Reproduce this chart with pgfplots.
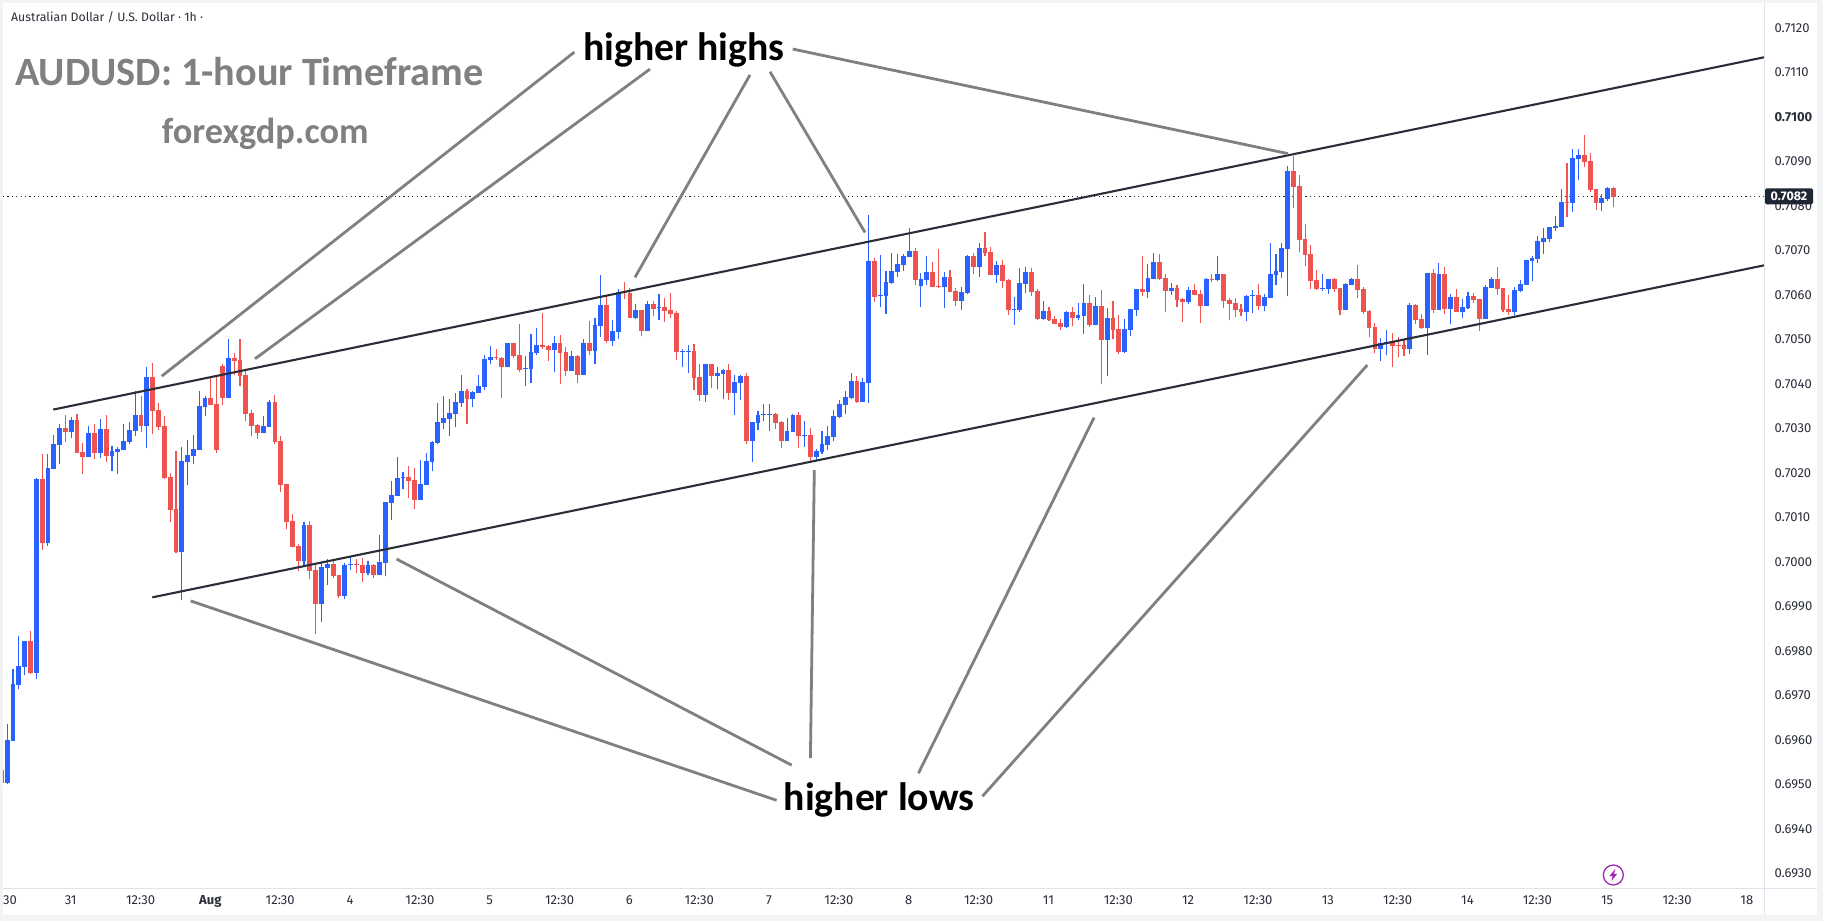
\documentclass[border=0pt]{standalone}
\usepackage{pgfplots}
\usepackage{pgfplotstable}
\usepackage{fontspec}
\pgfplotsset{compat=1.18}
\setmainfont{Fira Sans}
\newfontfamily\carlito{Carlito}
\definecolor{upc}{HTML}{2962FF}
\definecolor{dnc}{HTML}{EF5350}
\definecolor{tickc}{HTML}{2A2E39}
\definecolor{sepc}{HTML}{E0E3EB}
\definecolor{annc}{HTML}{808080}
\definecolor{outer}{HTML}{F2F3F5}
\definecolor{boltc}{HTML}{9C27B0}
\definecolor{boxc}{HTML}{1F2633}
\pgfplotstableread{
j o h l c
-6 0.69532 0.69532 0.69503 0.69503
-5 0.69503 0.69635 0.69500 0.69599
-4 0.69598 0.69759 0.69598 0.69725
-3 0.69724 0.69833 0.69714 0.69766
-2 0.69763 0.69822 0.69745 0.69822
-1 0.69822 0.69844 0.69748 0.69750
0 0.69750 0.70188 0.69736 0.70186
1 0.70186 0.70242 0.70026 0.70042
2 0.70042 0.70242 0.70035 0.70210
3 0.70208 0.70285 0.70208 0.70264
4 0.70262 0.70309 0.70219 0.70300
5 0.70300 0.70330 0.70269 0.70291
6 0.70291 0.70325 0.70278 0.70318
7 0.70318 0.70332 0.70244 0.70244
8 0.70246 0.70267 0.70197 0.70235
9 0.70235 0.70305 0.70235 0.70289
10 0.70289 0.70309 0.70231 0.70244
11 0.70244 0.70321 0.70233 0.70298
12 0.70298 0.70330 0.70224 0.70237
13 0.70237 0.70260 0.70204 0.70249
14 0.70246 0.70258 0.70197 0.70253
15 0.70251 0.70309 0.70251 0.70271
16 0.70269 0.70314 0.70264 0.70296
17 0.70294 0.70383 0.70282 0.70330
18 0.70330 0.70372 0.70291 0.70305
19 0.70305 0.70437 0.70255 0.70415
20 0.70415 0.70446 0.70287 0.70339
21 0.70341 0.70356 0.70296 0.70303
22 0.70305 0.70327 0.70186 0.70188
23 0.70190 0.70199 0.70089 0.70116
24 0.70118 0.70249 0.70019 0.70022
25 0.70022 0.70258 0.69914 0.70226
26 0.70224 0.70273 0.70172 0.70240
27 0.70237 0.70285 0.70219 0.70253
28 0.70251 0.70383 0.70251 0.70350
29 0.70348 0.70372 0.70327 0.70368
30 0.70368 0.70417 0.70352 0.70352
31 0.70354 0.70419 0.70244 0.70251
32 0.70440 0.70444 0.70352 0.70368
33 0.70368 0.70500 0.70368 0.70458
34 0.70458 0.70469 0.70419 0.70451
35 0.70453 0.70500 0.70395 0.70417
36 0.70419 0.70428 0.70316 0.70332
37 0.70334 0.70341 0.70282 0.70305
38 0.70307 0.70309 0.70276 0.70289
39 0.70289 0.70327 0.70289 0.70305
40 0.70303 0.70363 0.70303 0.70359
41 0.70359 0.70374 0.70264 0.70269
42 0.70271 0.70282 0.70157 0.70172
43 0.70174 0.70174 0.70073 0.70089
44 0.70091 0.70107 0.70033 0.70033
45 0.70035 0.70040 0.69979 0.70001
46 0.70001 0.70089 0.69990 0.70082
47 0.70082 0.70091 0.69961 0.69979
48 0.69981 0.69997 0.69837 0.69905
49 0.69905 0.69997 0.69864 0.69988
50 0.69986 0.70006 0.69948 0.69995
51 0.69995 0.70006 0.69963 0.69968
52 0.69970 0.69970 0.69918 0.69923
53 0.69923 0.69997 0.69916 0.69992
54 0.69992 0.70013 0.69981 0.69995
55 0.69995 0.70006 0.69975 0.69992
56 0.69992 0.70008 0.69954 0.69975
57 0.69975 0.70001 0.69970 0.69992
58 0.69992 0.69995 0.69963 0.69970
59 0.69970 0.70060 0.69970 0.69999
60 0.69997 0.70134 0.69968 0.70134
61 0.70132 0.70181 0.70094 0.70150
62 0.70148 0.70235 0.70148 0.70188
63 0.70188 0.70201 0.70163 0.70190
64 0.70190 0.70215 0.70143 0.70181
65 0.70183 0.70210 0.70118 0.70139
66 0.70139 0.70228 0.70139 0.70174
67 0.70172 0.70244 0.70172 0.70226
68 0.70224 0.70271 0.70204 0.70269
69 0.70267 0.70356 0.70264 0.70314
70 0.70312 0.70372 0.70298 0.70323
71 0.70321 0.70365 0.70282 0.70334
72 0.70332 0.70379 0.70303 0.70359
73 0.70357 0.70420 0.70348 0.70384
74 0.70384 0.70388 0.70309 0.70366
75 0.70366 0.70384 0.70348 0.70381
76 0.70379 0.70420 0.70379 0.70395
77 0.70393 0.70465 0.70386 0.70456
78 0.70453 0.70485 0.70444 0.70460
79 0.70460 0.70478 0.70453 0.70458
80 0.70458 0.70460 0.70368 0.70438
81 0.70438 0.70491 0.70438 0.70491
82 0.70491 0.70491 0.70458 0.70462
83 0.70465 0.70534 0.70426 0.70431
84 0.70433 0.70462 0.70395 0.70435
85 0.70433 0.70512 0.70402 0.70471
86 0.70469 0.70525 0.70465 0.70487
87 0.70487 0.70559 0.70478 0.70483
88 0.70485 0.70487 0.70451 0.70476
89 0.70476 0.70507 0.70426 0.70491
90 0.70491 0.70509 0.70399 0.70469
91 0.70471 0.70483 0.70417 0.70429
92 0.70429 0.70474 0.70429 0.70462
93 0.70462 0.70465 0.70402 0.70420
94 0.70420 0.70500 0.70420 0.70491
95 0.70491 0.70541 0.70465 0.70474
96 0.70474 0.70548 0.70444 0.70532
97 0.70530 0.70644 0.70505 0.70577
98 0.70577 0.70599 0.70491 0.70496
99 0.70496 0.70543 0.70485 0.70518
100 0.70516 0.70613 0.70500 0.70606
101 0.70607 0.70629 0.70590 0.70604
102 0.70604 0.70615 0.70548 0.70548
103 0.70548 0.70579 0.70545 0.70566
104 0.70566 0.70566 0.70507 0.70518
105 0.70518 0.70586 0.70518 0.70579
106 0.70579 0.70586 0.70552 0.70568
107 0.70570 0.70602 0.70543 0.70572
108 0.70572 0.70593 0.70539 0.70563
109 0.70566 0.70604 0.70548 0.70557
110 0.70559 0.70563 0.70453 0.70471
111 0.70471 0.70478 0.70438 0.70474
112 0.70471 0.70487 0.70424 0.70474
113 0.70474 0.70489 0.70386 0.70413
114 0.70415 0.70444 0.70361 0.70375
115 0.70375 0.70444 0.70359 0.70444
116 0.70444 0.70444 0.70390 0.70417
117 0.70417 0.70438 0.70388 0.70424
118 0.70422 0.70433 0.70366 0.70431
119 0.70431 0.70444 0.70363 0.70379
120 0.70379 0.70420 0.70330 0.70404
121 0.70402 0.70420 0.70363 0.70417
122 0.70417 0.70424 0.70265 0.70271
123 0.70271 0.70314 0.70224 0.70314
124 0.70312 0.70339 0.70296 0.70330
125 0.70330 0.70354 0.70316 0.70332
126 0.70330 0.70354 0.70294 0.70332
127 0.70332 0.70334 0.70298 0.70312
128 0.70314 0.70316 0.70256 0.70271
129 0.70271 0.70323 0.70271 0.70294
130 0.70292 0.70332 0.70292 0.70330
131 0.70330 0.70336 0.70256 0.70283
132 0.70283 0.70316 0.70258 0.70285
133 0.70285 0.70301 0.70224 0.70235
134 0.70235 0.70253 0.70226 0.70249
135 0.70247 0.70294 0.70242 0.70265
136 0.70262 0.70305 0.70251 0.70283
137 0.70280 0.70341 0.70271 0.70327
138 0.70325 0.70363 0.70323 0.70354
139 0.70352 0.70384 0.70332 0.70370
140 0.70368 0.70424 0.70366 0.70406
141 0.70406 0.70417 0.70357 0.70359
142 0.70359 0.70413 0.70359 0.70404
143 0.70402 0.70779 0.70357 0.70675
144 0.70676 0.70682 0.70584 0.70595
145 0.70597 0.70689 0.70572 0.70599
146 0.70597 0.70653 0.70557 0.70629
147 0.70626 0.70693 0.70624 0.70653
148 0.70651 0.70691 0.70639 0.70669
149 0.70666 0.70691 0.70653 0.70687
150 0.70684 0.70750 0.70684 0.70698
151 0.70698 0.70705 0.70621 0.70633
152 0.70619 0.70648 0.70572 0.70635
153 0.70633 0.70687 0.70621 0.70651
154 0.70651 0.70673 0.70617 0.70617
155 0.70619 0.70702 0.70615 0.70617
156 0.70617 0.70651 0.70570 0.70640
157 0.70640 0.70655 0.70606 0.70606
158 0.70608 0.70615 0.70574 0.70586
159 0.70586 0.70617 0.70565 0.70606
160 0.70603 0.70689 0.70601 0.70687
161 0.70687 0.70693 0.70646 0.70662
162 0.70662 0.70716 0.70640 0.70705
163 0.70705 0.70741 0.70687 0.70693
164 0.70696 0.70707 0.70644 0.70644
165 0.70644 0.70675 0.70626 0.70666
166 0.70666 0.70678 0.70615 0.70630
167 0.70633 0.70635 0.70554 0.70565
168 0.70565 0.70595 0.70532 0.70568
169 0.70565 0.70660 0.70561 0.70626
170 0.70624 0.70662 0.70603 0.70651
171 0.70651 0.70660 0.70597 0.70606
172 0.70608 0.70613 0.70543 0.70545
173 0.70545 0.70586 0.70543 0.70563
174 0.70563 0.70572 0.70541 0.70543
175 0.70545 0.70552 0.70534 0.70534
176 0.70536 0.70545 0.70520 0.70527
177 0.70527 0.70563 0.70525 0.70561
178 0.70561 0.70572 0.70529 0.70547
179 0.70547 0.70581 0.70543 0.70554
180 0.70552 0.70624 0.70511 0.70581
181 0.70581 0.70599 0.70527 0.70532
182 0.70532 0.70595 0.70532 0.70574
183 0.70574 0.70610 0.70399 0.70498
184 0.70498 0.70570 0.70417 0.70547
185 0.70547 0.70586 0.70500 0.70520
186 0.70523 0.70554 0.70466 0.70471
187 0.70471 0.70545 0.70469 0.70523
188 0.70520 0.70568 0.70507 0.70568
189 0.70565 0.70613 0.70552 0.70613
190 0.70613 0.70687 0.70597 0.70606
191 0.70606 0.70669 0.70592 0.70637
192 0.70635 0.70693 0.70635 0.70673
193 0.70673 0.70691 0.70633 0.70635
194 0.70637 0.70646 0.70561 0.70608
195 0.70608 0.70626 0.70599 0.70615
196 0.70615 0.70621 0.70572 0.70588
197 0.70590 0.70592 0.70538 0.70583
198 0.70583 0.70617 0.70579 0.70610
199 0.70610 0.70624 0.70599 0.70599
200 0.70601 0.70610 0.70536 0.70574
201 0.70574 0.70637 0.70574 0.70635
202 0.70635 0.70646 0.70628 0.70633
203 0.70633 0.70687 0.70630 0.70646
204 0.70646 0.70646 0.70570 0.70586
205 0.70588 0.70592 0.70543 0.70579
206 0.70581 0.70592 0.70550 0.70565
207 0.70568 0.70579 0.70552 0.70561
208 0.70561 0.70599 0.70541 0.70597
209 0.70597 0.70610 0.70559 0.70599
210 0.70599 0.70624 0.70565 0.70574
211 0.70574 0.70601 0.70563 0.70595
212 0.70592 0.70716 0.70592 0.70646
213 0.70644 0.70691 0.70621 0.70653
214 0.70651 0.70716 0.70637 0.70705
215 0.70703 0.70889 0.70597 0.70878
216 0.70878 0.70912 0.70795 0.70842
217 0.70844 0.70869 0.70696 0.70723
218 0.70725 0.70759 0.70664 0.70689
219 0.70691 0.70712 0.70613 0.70631
220 0.70633 0.70655 0.70610 0.70613
221 0.70613 0.70646 0.70608 0.70615
222 0.70613 0.70635 0.70601 0.70635
223 0.70635 0.70637 0.70606 0.70613
224 0.70615 0.70615 0.70554 0.70566
225 0.70566 0.70626 0.70566 0.70624
226 0.70622 0.70637 0.70622 0.70635
227 0.70635 0.70667 0.70593 0.70610
228 0.70613 0.70617 0.70557 0.70561
229 0.70563 0.70566 0.70505 0.70525
230 0.70527 0.70536 0.70469 0.70478
231 0.70478 0.70503 0.70451 0.70491
232 0.70489 0.70521 0.70464 0.70494
233 0.70494 0.70514 0.70437 0.70485
234 0.70487 0.70505 0.70460 0.70485
235 0.70487 0.70498 0.70462 0.70478
236 0.70478 0.70581 0.70467 0.70577
237 0.70577 0.70579 0.70534 0.70543
238 0.70545 0.70557 0.70523 0.70525
239 0.70525 0.70649 0.70464 0.70649
240 0.70649 0.70658 0.70559 0.70566
241 0.70566 0.70671 0.70566 0.70646
242 0.70646 0.70662 0.70557 0.70568
243 0.70568 0.70601 0.70534 0.70595
244 0.70595 0.70613 0.70561 0.70561
245 0.70561 0.70590 0.70548 0.70572
246 0.70570 0.70606 0.70568 0.70597
247 0.70597 0.70604 0.70581 0.70588
248 0.70590 0.70590 0.70518 0.70545
249 0.70545 0.70622 0.70545 0.70617
250 0.70615 0.70640 0.70615 0.70635
251 0.70635 0.70662 0.70599 0.70613
252 0.70615 0.70615 0.70561 0.70566
253 0.70568 0.70599 0.70554 0.70561
254 0.70561 0.70617 0.70554 0.70610
255 0.70608 0.70633 0.70606 0.70624
256 0.70622 0.70678 0.70622 0.70678
257 0.70676 0.70687 0.70631 0.70682
258 0.70680 0.70732 0.70671 0.70721
259 0.70718 0.70750 0.70691 0.70727
260 0.70725 0.70752 0.70718 0.70752
261 0.70750 0.70777 0.70743 0.70754
262 0.70752 0.70837 0.70752 0.70808
263 0.70808 0.70896 0.70775 0.70806
264 0.70806 0.70927 0.70786 0.70907
265 0.70905 0.70927 0.70858 0.70914
266 0.70914 0.70959 0.70887 0.70898
267 0.70900 0.70918 0.70831 0.70835
268 0.70837 0.70837 0.70790 0.70806
269 0.70806 0.70826 0.70788 0.70817
270 0.70815 0.70842 0.70810 0.70840
271 0.70840 0.70842 0.70797 0.70819
}\candles
\pgfplotsset{
  wick/.style={only marks,mark size=0pt,mark options={draw=none,fill=none},forget plot,
    error bars/.cd,y dir=plus,y explicit,error mark=none,
    error bar style={color=#1,line width=1.1pt,solid}},
  body/.style={only marks,mark size=0pt,mark options={draw=none,fill=none},forget plot,
    error bars/.cd,y dir=plus,y explicit,error mark=none,
    error bar style={color=#1,line width=4.8pt,solid}},
  isup/.style={y filter/.expression={\thisrow{c}>=\thisrow{o} ? y : nan}},
  isdn/.style={y filter/.expression={\thisrow{c}<\thisrow{o} ? y : nan}},
  ann/.style={annc,line width=2.8pt,forget plot},
  trend/.style={color=tickc,line width=2.1pt,forget plot}
}
\begin{document}
\begin{tikzpicture}
\useasboundingbox (0,0) rectangle (1823pt,921pt);
\fill[outer] (0,0) rectangle (1823pt,921pt);
\fill[white] (3pt,6pt) rectangle (1817pt,918pt);
\begin{axis}[
  at={(3pt,33pt)},anchor=south west,
  scale only axis,width=1761pt,height=885pt,
  xmin=-5.72,xmax=296.86,ymin=0.69267,ymax=0.712555,
  axis line style={draw=none},
  major tick length=0pt,
  xtick pos=bottom,ytick pos=right,
  xtick={-4.52,5.91,17.91,29.91,41.91,53.91,65.91,77.91,89.91,101.91,113.91,125.91,137.91,149.91,161.91,173.91,185.91,197.91,209.91,221.91,233.91,245.91,257.91,269.91,281.91,293.91},
  xticklabels={30,31,12:30,\textbf{Aug},12:30,4,12:30,5,12:30,6,12:30,7,12:30,8,12:30,11,12:30,12,12:30,13,12:30,14,12:30,15,12:30,18},
  ytick={0.693,0.694,0.695,0.696,0.697,0.698,0.699,0.7,0.701,0.702,0.703,0.704,0.705,0.706,0.707,0.708,0.709,0.71,0.711,0.712},
  yticklabels={0.6930,0.6940,0.6950,0.6960,0.6970,0.6980,0.6990,0.7000,0.7010,0.7020,0.7030,0.7040,0.7050,0.7060,0.7070,0.7080,0.7090,\textbf{0.7100},0.7110,0.7120},
  xticklabel style={font=\fontsize{13}{15}\selectfont,text=tickc,yshift=-4pt},
  yticklabel style={font=\fontsize{13}{15}\selectfont,text=tickc,xshift=7pt},
]
\addplot[color=tickc,line width=0.9pt,dash pattern=on 1.2pt off 3.2pt,forget plot] coordinates {(-5.72,0.7082) (296.86,0.7082)};
\addplot[isup,wick=upc] table[x=j,y=l,y error plus expr=\thisrow{h}-\thisrow{l}] {\candles};
\addplot[isdn,wick=dnc] table[x=j,y=l,y error plus expr=\thisrow{h}-\thisrow{l}] {\candles};
\addplot[isup,body=upc] table[x=j,y=o,y error plus expr=\thisrow{c}-\thisrow{o}] {\candles};
\addplot[isdn,body=dnc] table[x=j,y=c,y error plus expr=\thisrow{o}-\thisrow{c}] {\candles};
\addplot[trend] coordinates {(2.92,0.70342) (296.86,0.711335)};
\addplot[trend] coordinates {(19.93,0.69920) (296.86,0.70666)};
\addplot[ann] coordinates {(21.55,0.70417) (92.44,0.71145)};
\addplot[ann] coordinates {(37.58,0.70456) (105.45,0.71107)};
\addplot[ann] coordinates {(102.87,0.70639) (122.63,0.71094)};
\addplot[ann] coordinates {(126.07,0.71101) (142.39,0.70740)};
\addplot[ann] coordinates {(129.97,0.71152) (215.07,0.70917)};
\addplot[ann] coordinates {(26.53,0.69912) (127.2,0.69464)};
\addplot[ann] coordinates {(61.92,0.70006) (129.79,0.69543)};
\addplot[ann] coordinates {(133.68,0.70206) (133.01,0.69559)};
\addplot[ann] coordinates {(181.74,0.70324) (151.58,0.69525)};
\addplot[ann] coordinates {(228.7,0.70442) (162.56,0.69473)};
\end{axis}
\begin{scope}[x=1pt,y=-1pt,yshift=921pt]
\draw[sepc,line width=1pt] (3,888) -- (1817,888);
\draw[sepc,line width=1pt] (1764,3) -- (1764,915);
\node[anchor=west,inner sep=0pt,text=tickc,font=\fontsize{12.3}{15}\selectfont] at (11,17) {Australian Dollar / U.S. Dollar · 1h ·};
\node[anchor=west,inner sep=0pt,text=annc,font=\carlito\bfseries\fontsize{40.2}{46}\selectfont] at (15,72) {AUDUSD: 1-hour Timeframe};
\node[anchor=west,inner sep=0pt,text=annc,font=\carlito\bfseries\fontsize{36.3}{42}\selectfont] at (161.7,134) {forexgdp.com};
\node[anchor=center,inner sep=0pt,text=black,font=\carlito\bfseries\fontsize{39.7}{46}\selectfont] at (684,50) {higher highs};
\node[anchor=center,inner sep=0pt,text=black,font=\carlito\bfseries\fontsize{39.7}{46}\selectfont] at (879,800) {higher lows};
\fill[boxc,rounded corners=1.5pt] (1765,188.3) rectangle (1813,204.3);
\node[anchor=center,inner sep=0pt,text=white,font=\bfseries\fontsize{12.5}{15}\selectfont] at (1789,196.5) {0.7082};
\draw[boltc,line width=1.3pt] (1613.3,875) circle (10);
\fill[boltc] (1615.3,869) -- (1609.3,876.2) -- (1612.6,876.2) -- (1611.3,881) -- (1617.3,873.8) -- (1614,873.8) -- cycle;
\end{scope}
\end{tikzpicture}
\end{document}
